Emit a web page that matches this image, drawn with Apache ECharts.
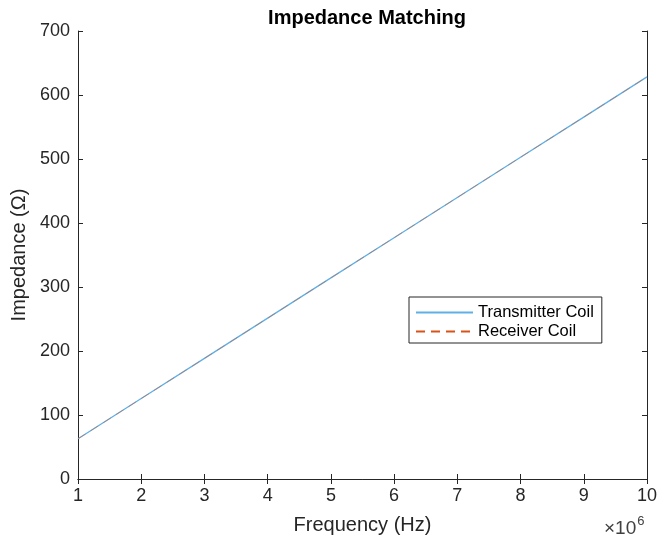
<!DOCTYPE html>
<html><head><meta charset="utf-8">
<script src="https://cdn.jsdelivr.net/npm/echarts@6/dist/echarts.min.js"></script>
<style>html,body{margin:0;padding:0;background:#fff}#c{width:660px;height:542px}</style>
</head><body><div id="c"></div>
<script>
const frequencyMHz = [1, 2, 3, 4, 5, 6, 7, 8, 9, 10];
const transmitterZ = [62.8, 125.7, 188.5, 251.3, 314.2, 377.0, 439.8, 502.7, 565.5, 628.3];
const receiverZ    = [62.8, 125.7, 188.5, 251.3, 314.2, 377.0, 439.8, 502.7, 565.5, 628.3];
const xTicks = [1, 2, 3, 4, 5, 6, 7, 8, 9, 10];
const yTicks = [0, 100, 200, 300, 400, 500, 600, 700];

const font = '"Liberation Sans", Arial, sans-serif';
const axisCol = '#262626';
const chart = echarts.init(document.getElementById('c'), null, {renderer: 'canvas'});
const pair = (xs, ys) => xs.map((x, i) => [x, ys[i]]);
const commonX = {
  type: 'value', min: xTicks[0], max: xTicks[xTicks.length - 1], interval: 1,
  axisLine: {show: true, lineStyle: {color: axisCol, width: 1}},
  axisTick: {show: true, inside: true, length: 5, lineStyle: {color: axisCol}},
  splitLine: {show: false}
};
const commonY = {
  type: 'value', min: yTicks[0], max: yTicks[yTicks.length - 1], interval: 100,
  axisLine: {show: true, lineStyle: {color: axisCol, width: 1}},
  axisTick: {show: true, inside: true, length: 5, lineStyle: {color: axisCol}},
  splitLine: {show: false}
};
chart.setOption({
  animation: false,
  backgroundColor: '#fff',
  title: {
    text: 'Impedance Matching', left: 362, top: 3, textAlign: 'center',
    textStyle: {fontFamily: font, fontSize: 20, fontWeight: 'bold', color: '#000'}
  },
  grid: {left: 78, right: 12, top: 31, bottom: 63, containLabel: false},
  xAxis: [
    Object.assign({}, commonX, {
      position: 'bottom',
      axisLabel: {color: axisCol, fontFamily: font, fontSize: 18, margin: 8},
      name: 'Frequency (Hz)', nameLocation: 'middle', nameGap: 36,
      nameTextStyle: {color: axisCol, fontFamily: font, fontSize: 20}
    }),
    Object.assign({}, commonX, {position: 'top', axisLabel: {show: false}})
  ],
  yAxis: [
    Object.assign({}, commonY, {
      position: 'left',
      axisLabel: {color: axisCol, fontFamily: font, fontSize: 18, margin: 8},
      name: 'Impedance (\u03A9)', nameLocation: 'middle', nameGap: 46,
      nameTextStyle: {color: axisCol, fontFamily: font, fontSize: 20}
    }),
    Object.assign({}, commonY, {position: 'right', axisLabel: {show: false}})
  ],
  legend: {
    orient: 'vertical', left: 409, top: 297,
    backgroundColor: '#fff', borderColor: axisCol, borderWidth: 1,
    padding: [7, 8, 3, 6], itemGap: 2,
    itemWidth: 57, itemHeight: 14,
    itemStyle: {opacity: 0},
    lineStyle: {opacity: 1},
    textStyle: {fontFamily: font, fontSize: 16.5, color: '#000'},
    data: ['Transmitter Coil', 'Receiver Coil']
  },
  series: [
    {
      name: 'Transmitter Coil', type: 'line', xAxisIndex: 0, yAxisIndex: 0,
      data: pair(frequencyMHz, transmitterZ), symbol: 'none',
      lineStyle: {color: '#5fb0e6', width: 1.3}, itemStyle: {color: '#5fb0e6'}
    },
    {
      name: 'Receiver Coil', type: 'line', xAxisIndex: 0, yAxisIndex: 0,
      data: pair(frequencyMHz, receiverZ), symbol: 'none',
      lineStyle: {color: '#D95319', width: 1, type: [9, 6], opacity: 0.45}, itemStyle: {color: '#D95319'}
    }
  ],
  graphic: [{
    type: 'text', left: 604, top: 515,
    style: {
      text: '{a|\u00D710}{b|6}', fill: axisCol,
      rich: {
        a: {fontFamily: font, fontSize: 19, fill: '#404040'},
        b: {fontFamily: font, fontSize: 13, fill: '#404040', verticalAlign: 'top', padding: [0, 0, 14, 1]}
      }
    }
  }]
});
</script></body></html>
